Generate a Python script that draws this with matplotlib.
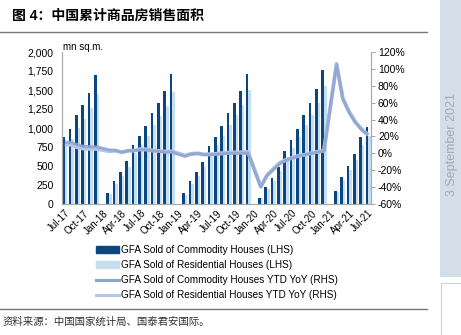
import numpy as np
import matplotlib
matplotlib.use("Agg")
import matplotlib.pyplot as plt
from matplotlib.patches import Rectangle
from matplotlib.lines import Line2D
from matplotlib.ticker import FuncFormatter, MultipleLocator

plt.rcParams['font.family'] = ['Liberation Sans', 'Noto Sans CJK SC', 'DejaVu Sans']

# ========== 数据 (Jul-17 ~ Jul-21, 1月无数据) ==========
months = []
for y in range(2017, 2022):
    for m in range(1, 13):
        if (y == 2017 and m < 7) or (y == 2021 and m > 7):
            continue
        months.append((y, m))
month_names = ["Jan", "Feb", "Mar", "Apr", "May", "Jun",
               "Jul", "Aug", "Sep", "Oct", "Nov", "Dec"]
labels = [f"{month_names[m - 1]}-{str(y)[2:]}" for y, m in months]

# 商品房累计销售面积 (mn sq.m.)
commodity = [877, 985, 1165, 1303, 1466, 1694,
             None, 151, 304, 421, 566, 771, 900, 1030, 1203, 1332, 1486, 1717,
             None, 141, 298, 417, 555, 758, 888, 1024, 1192, 1333, 1489, 1716,
             None, 85, 220, 340, 487, 694, 837, 990, 1171, 1333, 1508, 1761,
             None, 174, 360, 504, 664, 886, 1014]
# 住宅累计销售面积 (mn sq.m.)
residential = [765, 855, 1006, 1120, 1258, 1448,
               None, 132, 265, 366, 492, 670, 782, 895, 1043, 1154, 1284, 1479,
               None, 123, 261, 366, 489, 666, 781, 899, 1045, 1168, 1304, 1501,
               None, 74, 192, 300, 431, 614, 740, 876, 1036, 1177, 1329, 1549,
               None, 153, 318, 444, 585, 780, 894]
# 累计同比 (%)
commodity_yoy = [13.3, 12.7, 10.3, 8.2, 7.9, 7.7,
                 None, 4.1, 3.6, 1.3, 2.9, 3.3, 4.2, 4.0, 2.9, 2.2, 1.4, 1.3,
                 None, -3.6, -0.9, -0.3, -1.6, -1.8, -1.3, -0.6, -0.1, 0.1, 0.2, -0.1,
                 None, -39.9, -26.3, -19.3, -12.3, -8.4, -5.8, -3.3, -1.8, 0.0, 1.3, 2.6,
                 None, 104.9, 63.8, 48.1, 36.3, 27.7, 21.5]
residential_yoy = [10.7, 10.0, 7.0, 5.6, 5.3, 5.3,
                   None, 2.4, 3.1, 1.2, 3.2, 3.3, 5.1, 4.6, 3.3, 2.7, 2.1, 2.2,
                   None, -2.5, -0.6, 0.0, -1.3, -1.0, -0.6, 0.3, 0.8, 1.0, 1.2, 1.5,
                   None, -39.2, -25.9, -18.4, -11.3, -7.6, -5.2, -2.8, -1.6, 0.2, 1.9, 3.2,
                   None, 106.1, 65.3, 49.2, 37.0, 28.3, 21.9]

DARK = "#0b467f"
LIGHT = "#c5dff1"
LINE1 = "#8fa3d2"
LINE2 = "#b6c5e4"

fig = plt.figure(figsize=(4.61, 3.35), dpi=100)
ax = fig.add_axes([62 / 461, 1 - 204 / 335, (371 - 62) / 461, (204 - 52) / 335])
ax2 = ax.twinx()

x = np.arange(len(months))
valid = [i for i in x if commodity[i] is not None]
bw = 0.42
ax.bar([i - 0.2 for i in valid], [commodity[i] for i in valid], width=bw, color=DARK, zorder=2)
ax.bar([i + 0.2 for i in valid], [residential[i] for i in valid], width=bw, color=LIGHT, zorder=1)

# 折线跳过 1 月（直接连线）
ax2.plot(valid, [residential_yoy[i] for i in valid], color=LINE2, lw=2.8, solid_capstyle="butt")
ax2.plot(valid, [commodity_yoy[i] for i in valid], color=LINE1, lw=2.2, alpha=0.85, solid_capstyle="butt")

ax.set_xlim(-0.45, len(months) - 0.55)
ax.set_ylim(0, 2000)
ax2.set_ylim(-60, 120)
ax.yaxis.set_major_locator(MultipleLocator(250))
ax2.yaxis.set_major_locator(MultipleLocator(20))
ax.yaxis.set_major_formatter(FuncFormatter(lambda v, p: f"{int(v):,}"))
ax2.yaxis.set_major_formatter(FuncFormatter(lambda v, p: f"{int(v)}%"))

ax.set_xticks(x[::3])
ax.set_xticklabels(labels[::3], rotation=45, ha="right", rotation_mode="anchor", fontsize=7)
ax.tick_params(axis="x", length=0, pad=3)
ax.tick_params(axis="y", length=0, labelsize=7.5, pad=6)
ax2.tick_params(axis="y", length=3, width=0.6, color="#999999", labelsize=7.5, pad=2)

for a in (ax, ax2):
    a.spines["top"].set_visible(False)
    for s in ("left", "right", "bottom"):
        a.spines[s].set_color("#aaaaaa")
        a.spines[s].set_linewidth(0.8)

fig.text(63 / 461, 1 - 47 / 335, "mn sq.m.", fontsize=7, va="center", ha="left")

# 标题与分隔线
fig.text(12 / 461, 1 - 16 / 335, "图 4：中国累计商品房销售面积", fontsize=10, fontweight="bold",
         va="center", ha="left")
fig.add_artist(Line2D([0, 427 / 461], [1 - 32 / 335] * 2, color="#777777", lw=1.0))
fig.add_artist(Line2D([0, 427 / 461], [1 - 309 / 335] * 2, color="#777777", lw=1.0))
fig.text(3 / 461, 1 - 322 / 335, "资料来源：中国国家统计局、国泰君安国际。", fontsize=7.5,
         va="center", ha="left", color="#333333", style="italic")

# 右侧日期栏
fig.add_artist(Rectangle((440 / 461, 1 - 277 / 335), 21 / 461, 277 / 335,
                         facecolor="#d3dee8", edgecolor="none"))
fig.add_artist(Line2D([441 / 461, 441 / 461], [0, 1 - 283 / 335], color="#c8d3dc", lw=0.8))
fig.add_artist(Line2D([441 / 461, 1], [1 - 283 / 335] * 2, color="#c8d3dc", lw=0.8))
fig.text(452 / 461, 1 - 145 / 335, "3 September 2021", rotation=90, fontsize=9,
         color="#a3aab2", va="center", ha="center")

# 图例
handles = [
    Rectangle((0, 0), 1, 1, color=DARK),
    Rectangle((0, 0), 1, 1, color=LIGHT),
    Line2D([], [], color=LINE1, lw=2.2),
    Line2D([], [], color=LINE2, lw=2.2),
]
names = ["GFA Sold of Commodity Houses (LHS)",
         "GFA Sold of Residential Houses (LHS)",
         "GFA Sold of Commodity Houses YTD YoY (RHS)",
         "GFA Sold of Residential Houses YTD YoY (RHS)"]
fig.legend(handles, names, loc="upper left", bbox_to_anchor=(96 / 461, 1 - 245 / 335),
           frameon=False, fontsize=7.2, handlelength=2.3, handleheight=0.6,
           handletextpad=0.2, labelspacing=0.5, borderaxespad=0, borderpad=0)

fig.savefig("out.png", dpi=100)
